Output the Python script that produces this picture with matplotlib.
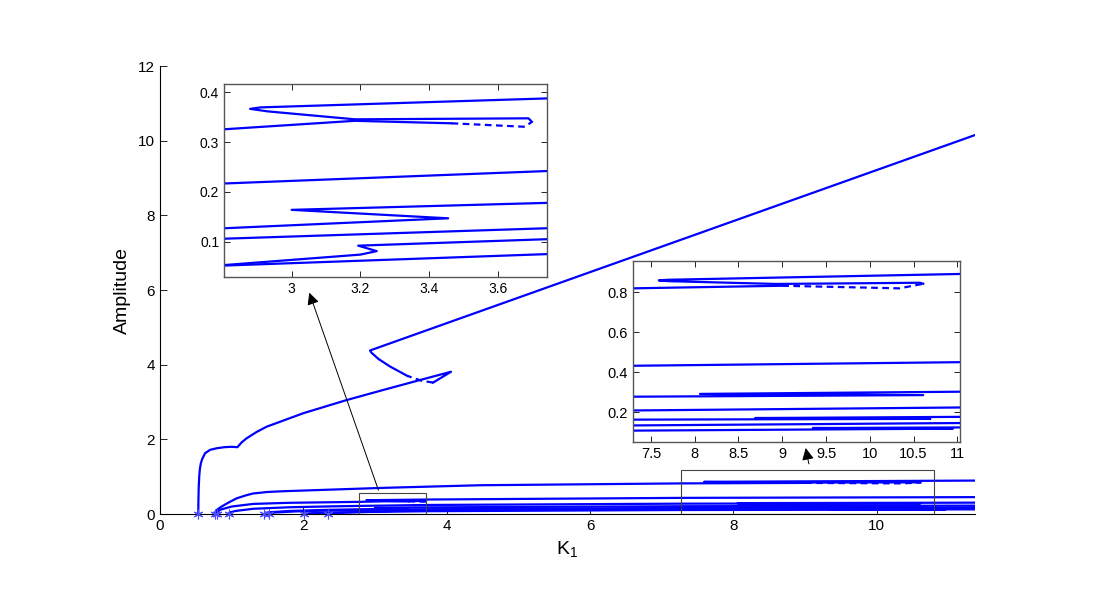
import matplotlib.pyplot as plt
from matplotlib.patches import Rectangle

plt.rcParams['font.family'] = ['Liberation Sans', 'DejaVu Sans']

# K1 values where each branch leaves zero amplitude
onset_k = [0.534, 0.767, 0.79, 0.96, 1.455, 1.52, 2.01, 2.35]

# branch 1 (large amplitude)
b1_k = [0.534, 0.536, 0.54, 0.547, 0.556, 0.57, 0.59, 0.63, 0.7, 0.79, 0.9, 1.0, 1.08, 1.14, 1.21,
        1.35, 1.49, 2.0, 2.6, 3.11, 3.63, 4.06, 3.81]
b1_amp = [0.0, 0.35, 0.7, 1.0, 1.2, 1.36, 1.48, 1.63, 1.72, 1.76, 1.79, 1.80, 1.79, 1.92, 2.03,
          2.2, 2.34, 2.70, 3.05, 3.32, 3.59, 3.81, 3.52]
b1_dash_k = [3.81, 3.65, 3.45]
b1_dash_amp = [3.52, 3.57, 3.70]
b1_up_k = [3.45, 3.21, 3.05, 2.95, 2.93, 11.37]
b1_up_amp = [3.70, 3.95, 4.15, 4.32, 4.38, 10.15]

# branch 2
b2_k = [0.767, 0.772, 0.78, 0.80, 0.86, 0.95, 1.07, 1.2, 1.30, 1.5, 1.72, 3.11, 4.46, 7.295, 9.0]
b2_amp = [0.0, 0.04, 0.08, 0.12, 0.2, 0.3, 0.42, 0.5, 0.55, 0.59, 0.61, 0.70, 0.77, 0.82, 0.833]
b2_dash_k = [9.0, 10.34, 10.61]
b2_dash_amp = [0.833, 0.82, 0.843]
b2_up_k = [10.61, 10.57, 8.93, 7.7, 7.59, 7.7, 11.03, 11.37]
b2_up_amp = [0.843, 0.848, 0.842, 0.856, 0.860, 0.863, 0.892, 0.895]

# branch 3
b3_k = [0.79, 0.80, 0.85, 1.0, 1.3, 1.8, 2.4, 2.804, 3.184, 3.466]
b3_amp = [0.0, 0.06, 0.12, 0.2, 0.27, 0.30, 0.315, 0.326, 0.343, 0.338]
b3_dash_k = [3.466, 3.68, 3.70]
b3_dash_amp = [0.338, 0.331, 0.341]
b3_up_k = [3.70, 3.69, 3.184, 2.93, 2.879, 2.91, 3.743, 7.295, 11.03, 11.37]
b3_up_amp = [0.341, 0.348, 0.346, 0.362, 0.367, 0.370, 0.388, 0.432, 0.45, 0.452]

# branch 4
b4_k = [0.96, 0.97, 1.05, 1.3, 1.8, 2.4, 2.804, 3.743, 7.295, 10.61, 8.06, 11.03, 11.37]
b4_amp = [0.0, 0.04, 0.08, 0.14, 0.18, 0.205, 0.217, 0.242, 0.277, 0.285, 0.291, 0.302, 0.304]

# branch 5
b5_k = [1.455, 1.465, 1.55, 1.8, 2.3, 2.804, 3.456, 3.0, 3.743, 7.295, 11.03, 11.37]
b5_amp = [0.0, 0.03, 0.05, 0.08, 0.11, 0.127, 0.147, 0.164, 0.178, 0.208, 0.223, 0.224]

# branch 6
b6_k = [1.52, 1.53, 1.6, 1.9, 2.4, 2.804, 3.743, 7.295, 10.69, 8.69, 11.03, 11.37]
b6_amp = [0.0, 0.025, 0.04, 0.07, 0.095, 0.106, 0.127, 0.162, 0.166, 0.170, 0.176, 0.177]

# branch 7
b7_k = [2.01, 2.02, 2.1, 2.4, 2.804, 3.2, 3.248, 3.194, 3.743, 7.295, 11.03, 11.37]
b7_amp = [0.0, 0.012, 0.02, 0.04, 0.053, 0.074, 0.081, 0.092, 0.105, 0.133, 0.145, 0.146]

# branch 8
b8_k = [2.35, 2.36, 2.5, 2.804, 3.743, 7.295, 10.95, 9.35, 11.03, 11.37]
b8_amp = [0.0, 0.015, 0.03, 0.052, 0.075, 0.107, 0.117, 0.120, 0.123, 0.124]

solid = [(b1_k, b1_amp), (b1_up_k, b1_up_amp), (b2_k, b2_amp), (b2_up_k, b2_up_amp),
         (b3_k, b3_amp), (b3_up_k, b3_up_amp), (b4_k, b4_amp), (b5_k, b5_amp),
         (b6_k, b6_amp), (b7_k, b7_amp), (b8_k, b8_amp)]
dashed = [(b1_dash_k, b1_dash_amp), (b2_dash_k, b2_dash_amp), (b3_dash_k, b3_dash_amp)]


def draw_branches(ax, lw=1.6):
    for k, a in solid:
        ax.plot(k, a, color=(0, 0, 1), lw=lw, solid_joinstyle='round')
    for k, a in dashed:
        ax.plot(k, a, color=(0, 0, 1), lw=lw, ls=(0, (3, 2)))


fig = plt.figure(figsize=(11, 6), dpi=100)

ax = fig.add_axes([160 / 1100, 86 / 600, 815 / 1100, 448 / 600])
draw_branches(ax)
ax.plot(onset_k, [0] * len(onset_k), ls='none', marker=(6, 2, 0), color=(0.3, 0.3, 1), ms=7, mew=0.8,
        clip_on=False, zorder=6)
ax.set_xlim(0, 11.37)
ax.set_ylim(0, 12)
ax.set_xticks(range(0, 11, 2))
ax.set_yticks(range(0, 13, 2))
for s in ['top', 'right']:
    ax.spines[s].set_visible(False)
ax.tick_params(direction='in', labelsize=11, length=5, width=0.6)
ax.set_xlabel('K$_\\mathregular{1}$', fontsize=14)
ax.set_ylabel('Amplitude', fontsize=14)
ax.xaxis.set_label_coords(0.5, -0.058)
ax.yaxis.set_label_coords(-0.036, 0.5)

# zoom boxes and arrows
ax.add_patch(Rectangle((2.78, 0.0), 0.93, 0.57, fill=False, ec='#444444', lw=0.8, zorder=5))
ax.add_patch(Rectangle((7.27, 0.0), 3.53, 1.18, fill=False, ec='#444444', lw=0.8, zorder=5))
ax.annotate('', xy=(2.07, 6.0), xytext=(3.06, 0.57),
            arrowprops=dict(arrowstyle='-|>', color='k', lw=0.7, mutation_scale=18))
ax.annotate('', xy=(9.0, 1.84), xytext=(9.06, 1.27),
            arrowprops=dict(arrowstyle='-|>', color='k', lw=0.7, mutation_scale=18))

# inset 1
ax1 = fig.add_axes([224 / 1100, 323 / 600, 323 / 1100, 193 / 600])
draw_branches(ax1)
ax1.set_xlim(2.803, 3.744)
ax1.set_ylim(0.029, 0.417)
ax1.set_xticks([3, 3.2, 3.4, 3.6])
ax1.set_xticklabels(['3', '3.2', '3.4', '3.6'])
ax1.set_yticks([0.1, 0.2, 0.3, 0.4])
ax1.tick_params(direction='in', top=True, right=True, labelsize=10, length=4, width=0.6)
for s in ax1.spines.values():
    s.set_color('#555555')
    s.set_linewidth(1.0)

# inset 2
ax2 = fig.add_axes([633 / 1100, 158 / 600, 327 / 1100, 181 / 600])
draw_branches(ax2)
ax2.set_xlim(7.295, 11.03)
ax2.set_ylim(0.05, 0.957)
ax2.set_xticks([7.5, 8, 8.5, 9, 9.5, 10, 10.5, 11])
ax2.set_xticklabels(['7.5', '8', '8.5', '9', '9.5', '10', '10.5', '11'])
ax2.set_yticks([0.2, 0.4, 0.6, 0.8])
ax2.tick_params(direction='in', top=True, right=True, labelsize=10.5, length=4, width=0.6)
for s in ax2.spines.values():
    s.set_color('#555555')
    s.set_linewidth(1.0)

fig.savefig('out.png', dpi=100)
